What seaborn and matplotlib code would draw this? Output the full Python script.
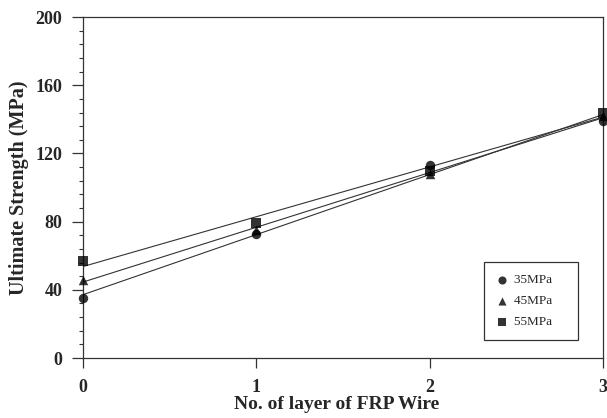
import numpy as np
import pandas as pd
import matplotlib
matplotlib.use("Agg")
import matplotlib.pyplot as plt
from matplotlib.ticker import MultipleLocator
import seaborn as sns

# values
layers = [0, 1, 2, 3]
s35 = [35, 73, 113, 139]
s45 = [46, 75, 108, 142]
s55 = [57, 79, 110, 144]
series_names = ["35MPa", "45MPa", "55MPa"]
markers = ["o", "^", "s"]

sns.set_style("white")
plt.rcParams['font.family'] = ['Liberation Serif', 'DejaVu Serif']

fig = plt.figure(figsize=(6.07, 4.18), dpi=100)
ax = fig.add_axes([0.137, 0.1435, 0.856, 0.8155])

for name, vals, mk in zip(series_names, [s35, s45, s55], markers):
    df = pd.DataFrame({"x": layers, "y": vals})
    sns.regplot(data=df, x="x", y="y", ax=ax, ci=None, truncate=False,
                marker=mk, label=name,
                scatter_kws=dict(color="black", s=46, clip_on=False, zorder=3, linewidths=0),
                line_kws=dict(color="#333333", lw=0.8))

ax.set_xlim(0, 3)
ax.set_ylim(0, 200)
ax.xaxis.set_major_locator(MultipleLocator(1))
ax.yaxis.set_major_locator(MultipleLocator(40))
ax.yaxis.set_minor_locator(MultipleLocator(8))

for sp in ax.spines.values():
    sp.set_color("#333333")
    sp.set_linewidth(0.9)

ax.tick_params(axis="y", which="major", direction="out", length=8, width=0.9,
               color="#333333", left=True, labelsize=13, pad=7)
ax.tick_params(axis="y", which="minor", direction="out", length=3, width=0.8,
               color="#333333", left=True)
ax.tick_params(axis="x", which="major", direction="out", length=7, width=0.9,
               color="#333333", bottom=True, labelsize=13, pad=8)
for lab in ax.get_xticklabels() + ax.get_yticklabels():
    lab.set_fontweight("bold")

ax.set_xlabel("No. of layer of FRP Wire", fontsize=14, fontweight="bold")
ax.set_ylabel("Ultimate Strength (MPa)", fontsize=14.5, fontweight="bold", labelpad=5)
ax.xaxis.set_label_coords(0.487, -0.112)

# legend: extra room on the right like the original box
handles, labels = ax.get_legend_handles_labels()
leg = ax.legend(handles, [l + "    " for l in labels],
                loc="lower right", bbox_to_anchor=(0.952, 0.053), fontsize=9.5,
                frameon=True, fancybox=False, edgecolor="black", handletextpad=0.4,
                handlelength=1.0, labelspacing=0.65, borderpad=0.9, borderaxespad=0)
leg.get_frame().set_linewidth(0.9)
for h in leg.legend_handles:
    try:
        h.set_sizes([34])
    except AttributeError:
        pass

fig.savefig("out.png", dpi=100)
